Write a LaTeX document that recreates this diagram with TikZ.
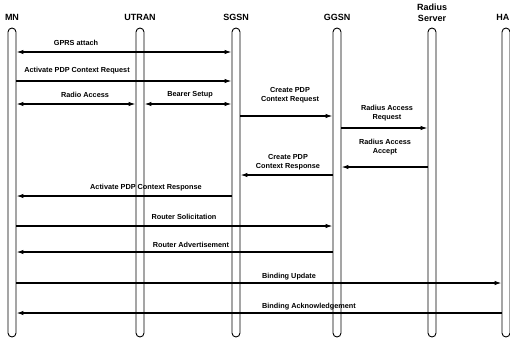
\documentclass[tikz,border=0pt]{standalone}
\usepackage{fontspec}
\setmainfont{Liberation Sans}
\usetikzlibrary{arrows.meta}
\begin{document}
\begin{tikzpicture}[x=1pt,y=-1pt,
  life/.style={draw,line width=0.9pt,rounded corners=4pt,minimum width=8pt,minimum height=309pt,inner sep=0pt},
  ent/.style={font=\fontsize{9}{11}\selectfont\bfseries,align=center},
  lbl/.style={font=\fontsize{7.3}{9.5}\selectfont\bfseries,align=center,inner sep=0pt},
  msg/.style={line width=1.2pt,-{Latex[length=7pt,width=4.5pt]}},
  dmsg/.style={line width=1.2pt,{Latex[length=7pt,width=4.5pt]}-{Latex[length=7pt,width=4.5pt]}}]
\useasboundingbox (0,0) rectangle (510,341);
% lifelines
\node[life] (mn) at (12,182.5) {};
\node[life] (utran) at (140,182.5) {};
\node[life] (sgsn) at (236,182.5) {};
\node[life] (ggsn) at (337,182.5) {};
\node[life] (rad) at (432,182.5) {};
\node[life] (ha) at (506,182.5) {};
% headers
\node[ent] (tmn) at (12,17) {MN};
\node[ent] (tutran) at (140,17) {UTRAN};
\node[ent] (tsgsn) at (236,17) {SGSN};
\node[ent] (tggsn) at (337,17) {GGSN};
\node[ent] (trad) at (432,13) {Radius\\Server};
\node[ent,anchor=east,inner xsep=0.5pt] (tha) at (510,17) {HA};
% messages
\draw[dmsg] (mn.east |- 0,52) -- (sgsn.west |- 0,52);
\node[lbl] (l1) at (76,43) {GPRS attach};
\draw[msg] (mn.east |- 0,81) -- (sgsn.west |- 0,81);
\node[lbl] (l2) at (77,71) {Activate PDP Context Request};
\draw[dmsg] (mn.east |- 0,104) -- (utran.west |- 0,104);
\node[lbl] (l3) at (85,95) {Radio Access};
\draw[dmsg] (utran.east |- 0,104) -- (sgsn.west |- 0,104);
\node[lbl] (l4) at (190,95) {Bearer Setup};
\draw[msg] (sgsn.east |- 0,116) -- (ggsn.west |- 0,116);
\node[lbl] (l5) at (290,95) {Create PDP\\Context Request};
\draw[msg] (ggsn.east |- 0,128) -- (rad.west |- 0,128);
\node[lbl] (l6) at (387,113) {Radius Access\\Request};
\draw[msg] (rad.west |- 0,167) -- (ggsn.east |- 0,167);
\node[lbl] (l7) at (385,147) {Radius Access\\Accept};
\draw[msg] (ggsn.west |- 0,175) -- (sgsn.east |- 0,175);
\node[lbl] (l8) at (288,162) {Create PDP\\Context Response};
\draw[msg] (sgsn.west |- 0,196) -- (mn.east |- 0,196);
\node[lbl] (l9) at (146,188) {Activate PDP Context Response};
\draw[msg] (mn.east |- 0,226) -- (ggsn.west |- 0,226);
\node[lbl] (l10) at (184,217) {Router Solicitation};
\draw[msg] (ggsn.west |- 0,252) -- (mn.east |- 0,252);
\node[lbl] (l11) at (191,245) {Router Advertisement};
\draw[msg] (mn.east |- 0,283) -- (ha.west |- 0,283);
\node[lbl] (l12) at (289,277) {Binding Update};
\draw[msg] (ha.west |- 0,313) -- (mn.east |- 0,313);
\node[lbl] (l13) at (309,307) {Binding Acknowledgement};
\end{tikzpicture}
\end{document}
